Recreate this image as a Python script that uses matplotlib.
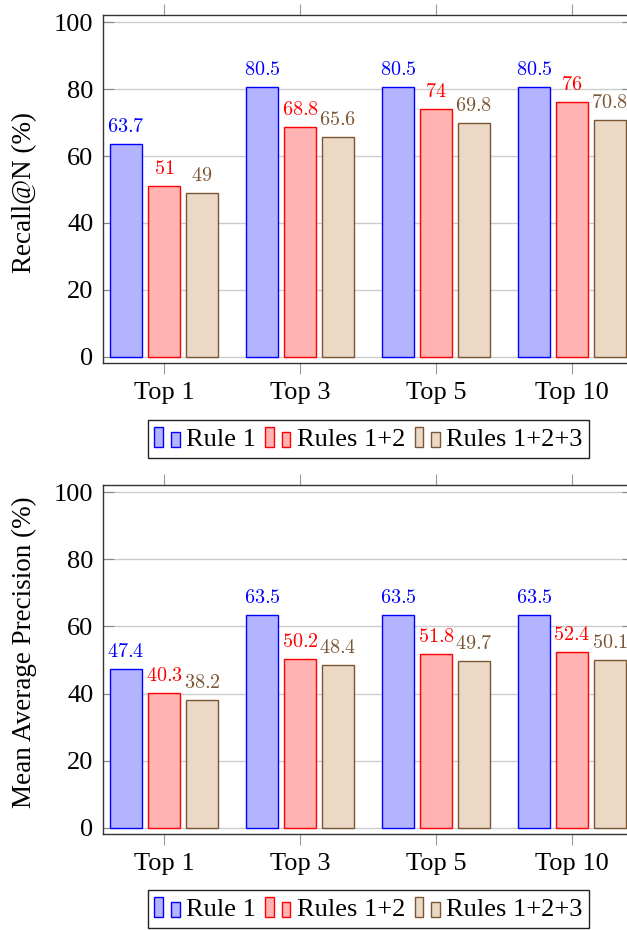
import numpy as np
import matplotlib
matplotlib.use('Agg')
import matplotlib.pyplot as plt
from matplotlib.patches import Rectangle
from matplotlib.legend_handler import HandlerBase

plt.rcParams['font.family'] = ['Liberation Serif', 'DejaVu Serif']
plt.rcParams['mathtext.fontset'] = 'cm'

# data
categories = ['Top 1', 'Top 3', 'Top 5', 'Top 10']
series_names = ['Rule 1', 'Rules 1+2', 'Rules 1+2+3']

recall_rule1 = [63.7, 80.5, 80.5, 80.5]
recall_rule12 = [51, 68.8, 74, 76]
recall_rule123 = [49, 65.6, 69.8, 70.8]

map_rule1 = [47.4, 63.5, 63.5, 63.5]
map_rule12 = [40.3, 50.2, 51.8, 52.4]
map_rule123 = [38.2, 48.4, 49.7, 50.1]

yticks = [0, 20, 40, 60, 80, 100]

# pgfplots like colours: fill = colour!30, draw = colour
fills = ['#b3b3ff', '#ffb3b3', '#ebd9c6']
edges = ['#0000ff', '#ff0000', '#7a5634']
texts = ['#0000ff', '#ff0000', '#7a5634']


class TwoBarHandler(HandlerBase):
    # ybar legend image: two little bars of different height
    def create_artists(self, legend, orig_handle, xdescent, ydescent,
                       width, height, fontsize, trans):
        fc = orig_handle.get_facecolor()
        ec = orig_handle.get_edgecolor()
        w = width * 0.34
        r1 = Rectangle((-xdescent, -ydescent), w, height, facecolor=fc,
                       edgecolor=ec, lw=1.0, transform=trans)
        r2 = Rectangle((-xdescent + width - w, -ydescent), w, height * 0.76,
                       facecolor=fc, edgecolor=ec, lw=1.0, transform=trans)
        return [r1, r2]


def draw_panel(ax, ylabel, series, legend_top, label_y):
    x = np.arange(len(categories))
    width = 0.235
    offset = 0.279
    proxies = []
    for i, vals in enumerate(series):
        pos = x + (i - 1) * offset
        ax.bar(pos, vals, width, color=fills[i], edgecolor=edges[i], lw=1.0, zorder=3)
        for px, v in zip(pos, vals):
            ax.annotate(f'${v:g}$', (px, v), xytext=(0, 5), textcoords='offset points',
                        ha='center', va='bottom', color=texts[i], fontsize=14.5,
                        annotation_clip=False)
        proxies.append(Rectangle((0, 0), 1, 1, facecolor=fills[i], edgecolor=edges[i]))

    ax.set_xlim(-0.4485, 3.4485)
    ax.set_ylim(-1.8, 102.1)
    ax.set_xticks(x)
    ax.set_xticklabels(categories, fontsize=19)
    ax.set_yticks(yticks)
    ax.set_yticklabels([str(t) for t in yticks], fontsize=19)
    ax.yaxis.grid(True, color='#cccccc', lw=1.0, zorder=0)
    ax.set_axisbelow(True)
    ax.tick_params(axis='y', direction='in', left=True, right=True, length=8,
                   color='#888888', pad=7)
    ax.tick_params(axis='x', direction='out', top=True, bottom=True, length=8,
                   color='#999999', pad=6)
    for s in ax.spines.values():
        s.set_color('#333333')
        s.set_linewidth(1.0)
    ax.set_ylabel(ylabel, fontsize=19.5)
    ax.yaxis.set_label_coords(-0.125, label_y)

    leg = ax.legend(proxies, series_names, loc='upper center',
                    bbox_to_anchor=(368.5 / 627, legend_top), bbox_transform=fig.transFigure,
                    ncol=3, fontsize=19, handler_map={Rectangle: TwoBarHandler()},
                    handlelength=0.95, handleheight=0.82, handletextpad=0.25,
                    columnspacing=0.35, borderpad=0.25, borderaxespad=0,
                    fancybox=False, framealpha=1, edgecolor='#222222')
    leg.get_frame().set_linewidth(1.0)


fig = plt.figure(figsize=(6.27, 9.3), dpi=100)
# axes run past the right border of the figure, as in the reference
ax1 = fig.add_axes([103 / 627, (930 - 363) / 930, 530 / 627, 348 / 930])
ax2 = fig.add_axes([103 / 627, (930 - 834) / 930, 530 / 627, 349 / 930])

draw_panel(ax1, 'Recall@N (%)', [recall_rule1, recall_rule12, recall_rule123],
           1 - 420 / 930, 0.49)
draw_panel(ax2, 'Mean Average Precision (%)', [map_rule1, map_rule12, map_rule123],
           1 - 890 / 930, 0.52)

fig.savefig('out.png', dpi=100)
